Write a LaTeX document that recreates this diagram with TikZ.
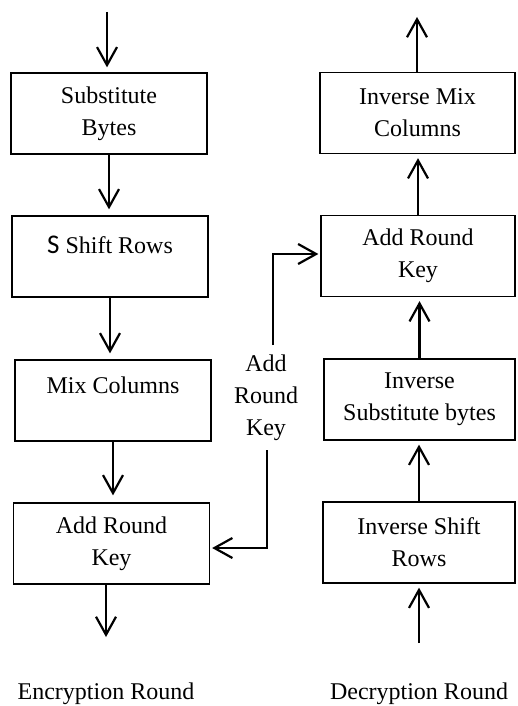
\documentclass[tikz,border=0pt]{standalone}
\usepackage{fontspec}
\setmainfont{Liberation Serif}
\newfontfamily\calS{Carlito}
\usetikzlibrary{arrows.meta}
\begin{document}
\begin{tikzpicture}[x=1pt,y=-1pt,
  every node/.style={font=\fontsize{24}{32}\selectfont},
  stage/.style={draw, line width=1.3pt, minimum width=196pt, minimum height=81pt,
                align=center, inner sep=0pt},
  flow/.style={line width=2.2pt, line cap=butt,
               -{Straight Barb[length=18pt,width=20pt,line width=2.2pt]}},
]
\useasboundingbox (0,0) rectangle (517,706);

% encryption round (left column)
\node[stage] (B1) at (109,113.5) {Substitute\\Bytes};
\node[stage, text height=37pt, text depth=44pt] (B2) at (110,256.5)
  {{\calS\fontsize{27}{32}\selectfont S} Shift Rows};
\node[stage, text height=33pt, text depth=48pt] (B3) at (113,400.5) {Mix Columns};
\node[stage] (B4) at (111.5,543.5) {Add Round\\Key};

% decryption round (right column)
\node[stage, minimum width=195pt] (R1) at (417.5,113) {Inverse Mix\\Columns};
\node[stage, minimum width=194pt] (R2) at (418,256) {Add Round\\Key};
\node[stage, minimum width=191pt] (R3) at (419.5,399.5) {Inverse\\Substitute bytes};
\node[stage, minimum width=192pt] (R4) at (419,542.5) {Inverse Shift\\Rows};

% round key shared between the two rounds
\node[align=center, inner sep=0pt] (K) at (266,398) {Add\\Round\\Key};

\node[anchor=base, inner sep=0pt] (enc) at (106,699) {Encryption Round};
\node[anchor=base, inner sep=0pt] (dec) at (419,699) {Decryption Round};

% free ends of the data path
\coordinate (e0) at (107,12);
\coordinate (e1) at (106,637);
\coordinate (d0) at (419,643);
\coordinate (d1) at (417,17);
\coordinate (kt) at (273,345);
\coordinate (kb) at (267,450);

% encryption flow
\draw[flow, shorten >=5pt] (e0) -- (e0 |- B1.north);
\draw[flow, shorten >=6pt] (B1.south) -- (B1.south |- B2.north);
\draw[flow, shorten >=6pt] (B2.south) -- (B2.south |- B3.north);
\draw[flow, shorten >=7pt] (B3.south) -- (B3.south |- B4.north);
\draw[flow] (e1 |- B4.south) -- (e1);

% decryption flow
\draw[flow, shorten >=4pt] (d0) -- (d0 |- R4.south);
\draw[flow, shorten >=4pt] (R4.north) -- (R4.north |- R3.south);
\draw[flow, shorten >=4pt] (R3.north) -- (R3.north |- R2.south);
\draw[flow, shorten >=4pt] (R2.north) -- (R2.north |- R1.south);
\draw[flow] (d1 |- R1.north) -- (d1);

% round key inputs
\draw[flow, shorten >=2pt] (kt) |- ([yshift=2pt]R2.west);
\draw[flow, shorten >=2pt] (kb) |- ([yshift=-4.5pt]B4.east);
\end{tikzpicture}
\end{document}
